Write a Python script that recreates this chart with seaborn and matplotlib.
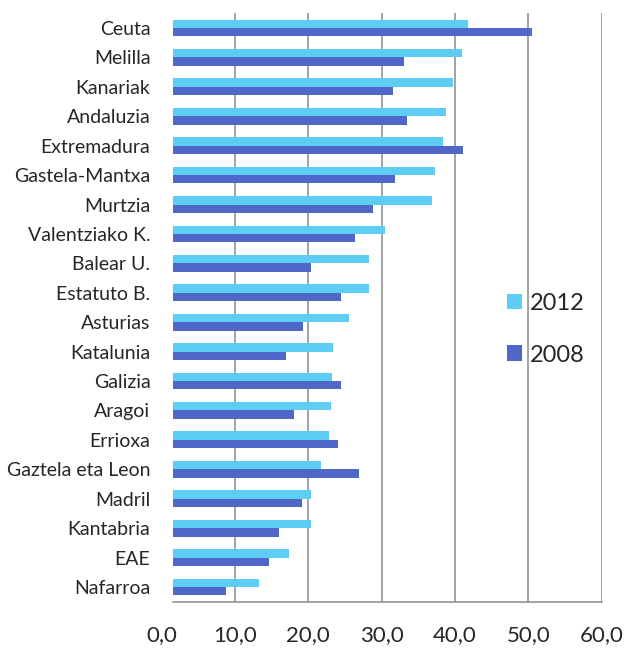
import pandas as pd
import matplotlib
matplotlib.use("Agg")
import matplotlib.pyplot as plt
import seaborn as sns

# chart values
regions = ["Ceuta", "Melilla", "Kanariak", "Andaluzia", "Extremadura",
           "Gastela-Mantxa", "Murtzia", "Valentziako K.", "Balear U.",
           "Estatuto B.", "Asturias", "Katalunia", "Galizia", "Aragoi",
           "Errioxa", "Gaztela eta Leon", "Madril", "Kantabria", "EAE",
           "Nafarroa"]
values_2012 = [41.8, 41.0, 39.7, 38.7, 38.4, 37.3, 36.9, 30.4, 28.2, 28.2,
               25.6, 23.3, 23.2, 23.1, 22.8, 21.7, 20.4, 20.3, 17.3, 13.3]
values_2008 = [50.5, 33.0, 31.5, 33.4, 41.1, 31.8, 28.8, 26.4, 20.4, 24.5,
               19.3, 17.0, 24.4, 18.0, 24.0, 26.9, 19.2, 16.0, 14.7, 8.8]
years = ["2012", "2008"]
tick_values = [10, 20, 30, 40, 50, 60]

df = pd.DataFrame({
    "region": regions * 2,
    "value": values_2012 + values_2008,
    "year": [years[0]] * len(regions) + [years[1]] * len(regions),
})

sns.set_style("white")
plt.rcParams["font.family"] = ["Lato", "DejaVu Sans"]

grid_col = "#8a8a8a"
fig = plt.figure(figsize=(6.27, 6.48), dpi=100)
ax = fig.add_axes([0.2754, 0.0715, 0.9597 - 0.2754, 0.9795 - 0.0715])

sns.barplot(data=df, x="value", y="region", hue="year", hue_order=years,
            order=regions, palette=["#5DCDF3", "#4E67C8"], width=0.57,
            linewidth=0, saturation=1, ax=ax)

# excel-like axis: bars start a bit right of the 0 tick
ax.set_xlim(1.5, 60)
ax.set_xticks(tick_values)
ax.set_xticklabels([f"{v:.1f}".replace(".", ",") for v in tick_values])
ax.xaxis.grid(True, color=grid_col, linewidth=1.1)
ax.set_axisbelow(True)
ax.annotate("0,0", xy=(0, 0), xycoords=ax.get_xaxis_transform(),
            xytext=(0, -17), textcoords="offset points", ha="center",
            va="top", fontsize=16, annotation_clip=False)

for s in ["left", "top", "right"]:
    ax.spines[s].set_visible(False)
ax.spines["bottom"].set_color(grid_col)
ax.spines["bottom"].set_linewidth(1.1)

ax.tick_params(axis="x", direction="out", length=6, width=1.1,
               color=grid_col, labelsize=16, pad=11)
ax.tick_params(axis="y", length=0, labelsize=14, pad=16)
ax.set_xlabel("")
ax.set_ylabel("")

ax.legend(loc="center left", bbox_to_anchor=(0.79, 0.492),
          bbox_transform=fig.transFigure, frameon=False, fontsize=17,
          handlelength=0.65, handleheight=0.65, handletextpad=0.3,
          labelspacing=1.3, borderpad=0)

fig.savefig("out.png", dpi=100, facecolor="white")
